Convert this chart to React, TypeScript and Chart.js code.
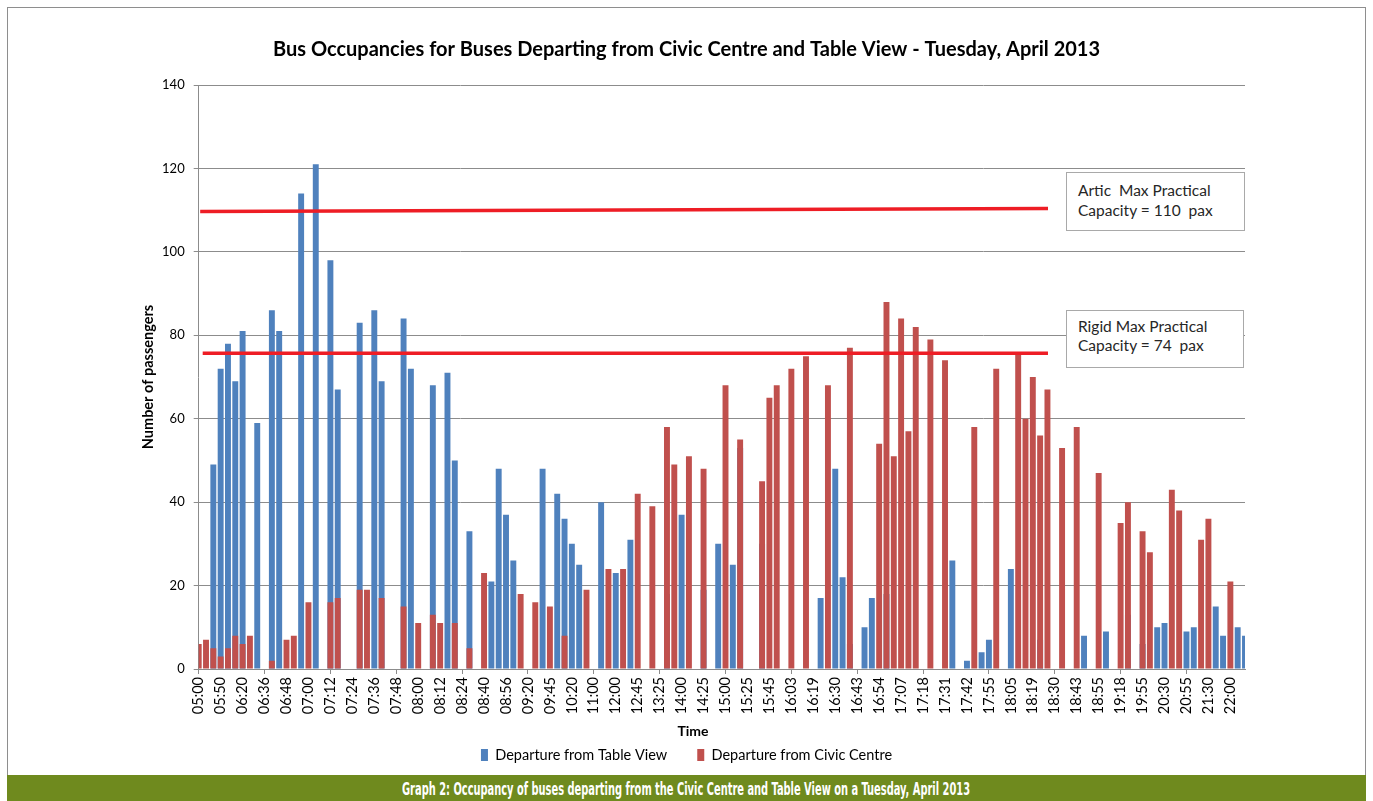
import React, { useEffect, useLayoutEffect, useRef } from 'react';
import { Chart, registerables } from 'chart.js';

Chart.register(...registerables);

const CHART_TITLE = 'Bus Occupancies for Buses Departing from Civic Centre and Table View - Tuesday, April 2013';
const CAPTION = 'Graph 2: Occupancy of buses departing from the Civic Centre and Table View on a Tuesday, April 2013';
const Y_TITLE = 'Number of passengers';
const X_TITLE = 'Time';
const SERIES_NAMES = ['Departure from Table View', 'Departure from Civic Centre'];

// one tick label every third departure slot
const TICK_LABELS = [
  '05:00', '05:50', '06:20', '06:36', '06:48', '07:00', '07:12', '07:24', '07:36', '07:48',
  '08:00', '08:12', '08:24', '08:40', '08:56', '09:20', '09:45', '10:20', '11:00', '12:00',
  '12:45', '13:25', '14:00', '14:25', '15:00', '15:25', '15:45', '16:03', '16:19', '16:30',
  '16:43', '16:54', '17:07', '17:18', '17:31', '17:42', '17:55', '18:05', '18:19', '18:30',
  '18:43', '18:55', '19:18', '19:55', '20:30', '20:55', '21:30', '22:00',
];
const SLOTS_PER_LABEL = 3;
const CATEGORIES = TICK_LABELS.flatMap((l) => [l, '', '']);

const TABLE_VIEW = [
  null, null, 49, 72, 78, 69, 81, null, 59, null, 86, 81,
  null, null, 114, null, 121, null, 98, 67, null, null, 83, null,
  86, 69, null, null, 84, 72, null, null, 68, null, 71, 50,
  null, 33, null, null, 21, 48, 37, 26, null, null, null, 48,
  null, 42, 36, 30, 25, null, null, 40, null, 23, null, 31,
  null, null, null, null, 18, null, 37, null, null, 19, null, 30,
  null, 25, 53, null, null, 30, null, null, null, null, null, null,
  null, 17, null, 48, 22, 6, null, 10, 17, null, 18, null,
  null, null, null, null, null, null, null, 26, null, 2, null, 4,
  7, null, null, 24, null, null, null, 7, null, null, null, null,
  null, 8, null, null, 9, null, null, 13, null, 6, null, 10,
  11, null, null, 9, 10, null, null, 15, 8, null, 10, 8,
];

const CIVIC_CENTRE = [
  6, 7, 5, 3, 5, 8, 6, 8, null, null, 2, null,
  7, 8, null, 16, null, null, 16, 17, null, null, 19, 19,
  null, 17, null, null, 15, null, 11, null, 13, 11, null, 11,
  null, 5, null, 23, null, null, null, null, 18, null, 16, null,
  15, null, 8, null, null, 19, null, null, 24, null, 24, null,
  42, null, 39, null, 58, 49, null, 51, null, 48, null, null,
  68, null, 55, null, null, 45, 65, 68, null, 72, null, 75,
  null, null, 68, null, null, 77, null, null, null, 54, 88, 51,
  84, 57, 82, null, 79, null, 74, null, null, null, 58, null,
  null, 72, null, null, 76, 60, 70, 56, 67, null, 53, null,
  58, null, null, 47, null, null, 35, 40, null, 33, 28, null,
  null, 43, 38, null, null, 31, 36, null, null, 21, null, null,
];

const Y_MIN = 0;
const Y_MAX = 140;
const Y_STEP = 20;

// drawn capacity reference lines (value at start, value at end)
const ARTIC_LINE = { start: 109.7, end: 110.4 };
const RIGID_LINE = { start: 75.7, end: 75.7 };
const ARTIC_NOTE = ['Artic  Max Practical', 'Capacity = 110  pax'];
const RIGID_NOTE = ['Rigid Max Practical', 'Capacity = 74  pax'];

const BLUE = '#4f81bd';
const RED = '#c0504d';
const GRID = '#8c8c8c';
const FONT = 'Lato, "Noto Sans", sans-serif';

const capacityLines = {
  id: 'capacityLines',
  afterDatasetsDraw(chart: any) {
    const { ctx, chartArea, scales } = chart;
    const y = scales.y;
    const xEnd = chartArea.left + (chartArea.right - chartArea.left) * 0.8117;
    ctx.save();
    ctx.strokeStyle = '#ee1d25';
    ctx.lineWidth = 3.5;
    const lines: [typeof ARTIC_LINE, number][] = [[ARTIC_LINE, 1.5], [RIGID_LINE, 4]];
    for (const [line, off] of lines) {
      ctx.beginPath();
      ctx.moveTo(chartArea.left + off, y.getPixelForValue(line.start));
      ctx.lineTo(xEnd, y.getPixelForValue(line.end));
      ctx.stroke();
    }
    ctx.restore();
  },
};

export default function App() {
  const canvasRef = useRef<HTMLCanvasElement>(null);
  const captionRef = useRef<HTMLSpanElement>(null);

  useLayoutEffect(() => {
    const el = captionRef.current;
    if (!el) return;
    el.style.transform = 'none';
    const w = el.offsetWidth;
    if (w > 0) el.style.transform = `scaleX(${568 / w})`;
  }, []);

  useEffect(() => {
    Chart.defaults.font.family = FONT;
    Chart.defaults.color = '#000';
    const common = {
      grouped: false,
      categoryPercentage: 0.9,
      barPercentage: 0.9,
      borderWidth: 0,
      clip: 0,
    };
    const chart = new Chart(canvasRef.current as HTMLCanvasElement, {
      type: 'bar',
      data: {
        labels: CATEGORIES,
        datasets: [
          { label: SERIES_NAMES[0], data: TABLE_VIEW, backgroundColor: BLUE, order: 1, ...common } as any,
          { label: SERIES_NAMES[1], data: CIVIC_CENTRE, backgroundColor: RED, order: 0, ...common } as any,
        ],
      },
      options: {
        responsive: false,
        animation: false,
        devicePixelRatio: 1,
        layout: { padding: { top: 0, left: 0, right: 0, bottom: 2.75 } },
        plugins: {
          title: {
            display: true,
            text: CHART_TITLE,
            color: '#000',
            font: { size: 20, weight: 'bold', family: FONT },
            padding: { top: 30, bottom: 23 },
          },
          legend: {
            position: 'bottom',
            labels: {
              boxWidth: 7,
              boxHeight: 12,
              padding: 30,
              color: '#000',
              font: { size: 14.5, family: FONT },
              sort: (a: any, b: any) => a.datasetIndex - b.datasetIndex,
            },
          },
          tooltip: { enabled: false },
        },
        scales: {
          x: {
            type: 'category',
            offset: false,
            grid: {
              display: true,
              drawOnChartArea: false,
              drawTicks: true,
              tickLength: 5,
              offset: false,
              color: (c: any) => (c.index % SLOTS_PER_LABEL === 0 ? GRID : 'rgba(0,0,0,0)'),
            },
            border: { color: GRID },
            ticks: {
              autoSkip: false,
              maxRotation: 90,
              minRotation: 90,
              padding: 3,
              color: '#000',
              font: { size: 14.5, family: FONT },
              callback: (_v: any, i: number) => (i % SLOTS_PER_LABEL === 0 ? CATEGORIES[i] : null),
            },
            afterFit: (s: any) => { s.height = 48.75; },
          },
          y: {
            type: 'linear',
            min: Y_MIN,
            max: Y_MAX,
            ticks: { stepSize: Y_STEP, padding: 9, color: '#000', font: { size: 13, family: FONT } },
            grid: { color: GRID, tickLength: 5, lineWidth: 1 },
            border: { color: GRID },
            title: {
              display: true,
              text: Y_TITLE,
              color: '#000',
              font: { size: 14.5, weight: 'bold', family: FONT },
              padding: { top: 131.3, bottom: 0 },
            },
            afterFit: (s: any) => { s.width = 190.7; },
          },
          y2: {
            type: 'linear',
            position: 'right',
            display: true,
            grid: { display: false, drawOnChartArea: false, drawTicks: false },
            border: { display: false },
            ticks: { display: false },
            afterFit: (s: any) => { s.width = 120; },
          },
        },
      } as any,
      plugins: [capacityLines],
    });
    return () => chart.destroy();
  }, []);

  const noteStyle: React.CSSProperties = {
    position: 'absolute',
    left: 1066,
    width: 179,
    boxSizing: 'border-box',
    border: '1px solid #a9a9a9',
    background: '#fff',
    fontFamily: FONT,
    fontSize: 15.5,
    color: '#262626',
    paddingLeft: 11,
    whiteSpace: 'pre',
  };

  return (
    <div style={{ position: 'absolute', left: 0, top: 0, width: 1373, height: 801, background: '#fff', overflow: 'hidden' }}>
      <div style={{ position: 'absolute', left: 7, top: 7, width: 1357, height: 767, border: '1px solid #8e8e8e' }} />
      <canvas ref={canvasRef} width={1357} height={767} style={{ position: 'absolute', left: 8, top: 8 }} />
      <div
        style={{
          position: 'absolute', left: 643, top: 722, width: 100, textAlign: 'center',
          fontFamily: FONT, fontWeight: 'bold', fontSize: 14, lineHeight: '17px', color: '#000',
        }}
      >
        {X_TITLE}
      </div>
      <div style={{ ...noteStyle, top: 172, height: 59, paddingTop: 7, lineHeight: '20px' }}>
        {ARTIC_NOTE.join('\n')}
      </div>
      <div style={{ ...noteStyle, top: 310, height: 58, width: 178, paddingTop: 6, lineHeight: '19px' }}>
        {RIGID_NOTE.join('\n')}
      </div>
      <div
        style={{
          position: 'absolute', left: 7, top: 775, width: 1359, height: 26, background: '#6f8a1e',
          display: 'flex', alignItems: 'center', justifyContent: 'center', overflow: 'hidden',
        }}
      >
        <span
          ref={captionRef}
          style={{
            display: 'inline-block', whiteSpace: 'nowrap', color: '#fff',
            fontFamily: '"DejaVu Sans Condensed", "DejaVu Sans", sans-serif', fontWeight: 'bold',
            fontSize: 18, lineHeight: '26px', transformOrigin: 'center', paddingTop: 2,
          }}
        >
          {CAPTION}
        </span>
      </div>
    </div>
  );
}
